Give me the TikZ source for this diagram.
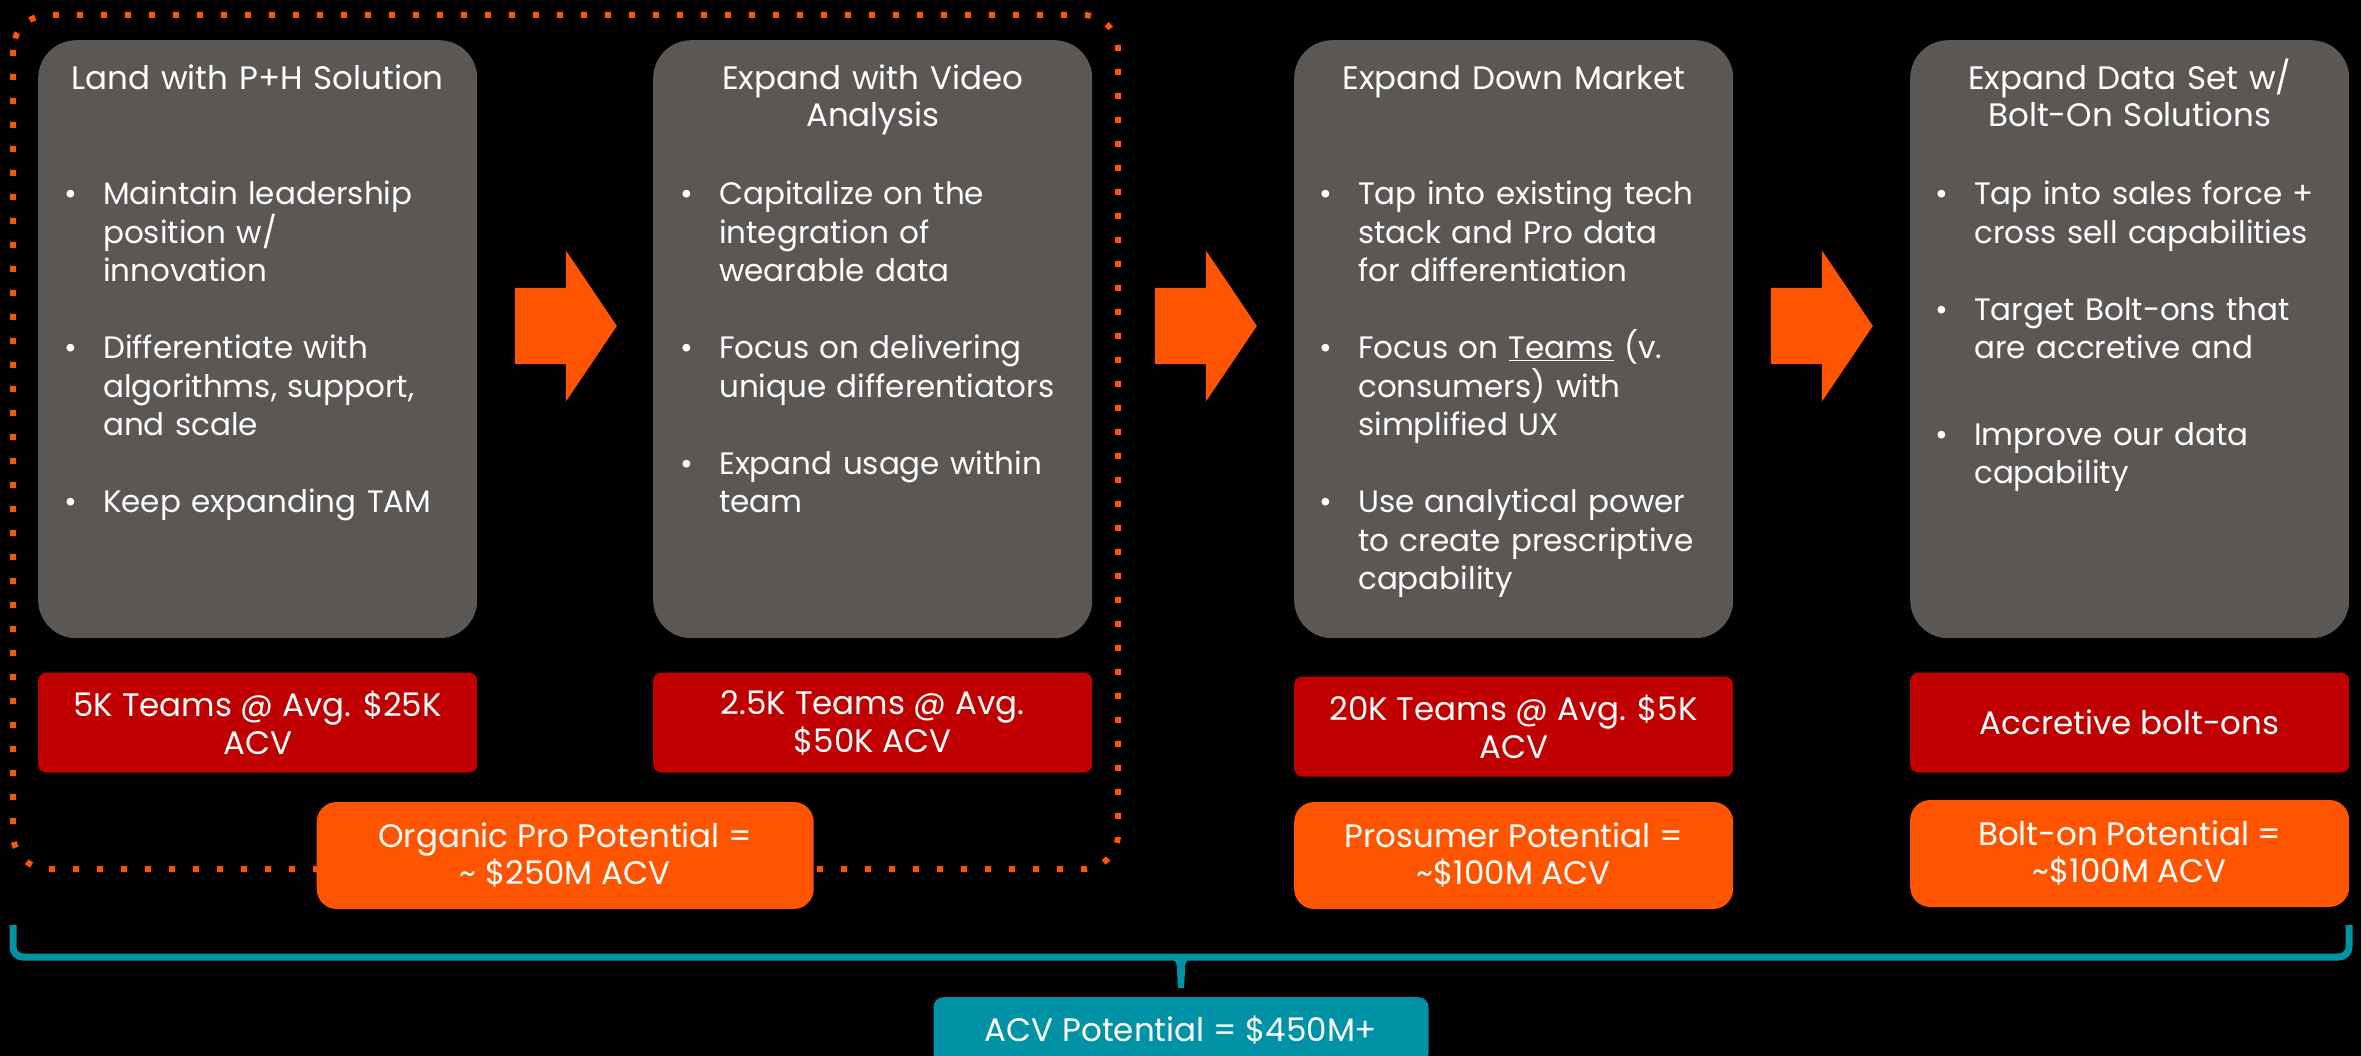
\documentclass[tikz,border=0pt]{standalone}
\usepackage{fontspec}
\setmainfont{Poppins}
\usetikzlibrary{shapes.arrows,calc}

\definecolor{panelgray}{RGB}{91,87,85}
\definecolor{acvred}{RGB}{192,0,0}
\definecolor{acvorange}{RGB}{255,85,0}
\definecolor{acvteal}{RGB}{0,146,166}

\newcommand{\bul}{\leavevmode\llap{\textbullet\hspace{26pt}}}

\begin{document}
\begin{tikzpicture}[x=1pt,y=-1pt]
	\tikzstyle{panel} = [fill=panelgray, rounded corners=38, minimum width=439, minimum height=598, inner sep=0, anchor=north west];
	\tikzstyle{title} = [text=white, text width=430, align=center, anchor=base, inner sep=0, font={\fontsize{32.5}{37}\selectfont}];
	\tikzstyle{bullets} = [text=white, text width=370, align=left, anchor=base west, inner sep=0, font={\fontsize{31}{38.5}\selectfont}];
	\tikzstyle{teams} = [fill=acvred, rounded corners=8, minimum width=439, minimum height=100, text=white, align=center, anchor=north, font={\fontsize{32.5}{38}\selectfont}];
	\tikzstyle{potential} = [fill=acvorange, rounded corners=20, minimum width=439, minimum height=107, text=white, align=center, anchor=north, font={\fontsize{32.5}{37}\selectfont}];
	\tikzstyle{total} = [fill=acvteal, rounded corners=10, minimum width=495, minimum height=66, text=white, anchor=north, font={\fontsize{32.5}{37}\selectfont}];
	\tikzstyle{blockarrow} = [single arrow, fill=acvorange, minimum height=102, inner xsep=0, inner ysep=38, single arrow head extend=37.5, single arrow tip angle=112];
	\tikzstyle{dotline} = [draw=acvorange, line width=6, dash pattern=on 6 off 18, rounded corners=35];
	\tikzstyle{bracket} = [draw=acvteal, line width=7, rounded corners=10];

	\useasboundingbox (0,0) rectangle (2361,1056);
	\fill[black] (0,0) rectangle (2361,1056);

	% dotted frame round the first two steps
	\draw[dotline] (13,15) rectangle (1118,869);

	% the four steps
	\foreach \px [count=\pi] in {38,653,1294,1910}
		\node[panel] (panel\pi) at (\px,40) {};

	\foreach \ax [count=\ai] in {553,1193,1809}
		\node[blockarrow] (arrow\ai) at (\ax,326) {};

	\node[title] (title1) at ($(panel1.north)+(0,50)$) {Land with P+H Solution};
	\node[title] (title2) at ($(panel2.north)+(0,50)$) {Expand with Video\\Analysis};
	\node[title] (title3) at ($(panel3.north)+(0,50)$) {Expand Down Market};
	\node[title] (title4) at ($(panel4.north)+(0,50)$) {Expand Data Set w/\\Bolt-On Solutions};

	\node[bullets] (list1) at ($(panel1.north west)+(65,165)$) {%
		\bul Maintain leadership\\position w/\\innovation\\[38.5pt]
		\bul Differentiate with\\algorithms, support,\\and scale\\[38.5pt]
		\bul Keep expanding TAM};
	\node[bullets] (list2) at ($(panel2.north west)+(66,165)$) {%
		\bul Capitalize on the\\integration of\\wearable data\\[38.5pt]
		\bul Focus on delivering\\unique differentiators\\[38.5pt]
		\bul Expand usage within\\team};
	\node[bullets] (list3) at ($(panel3.north west)+(64,165)$) {%
		\bul Tap into existing tech\\stack and Pro data\\for differentiation\\[38.5pt]
		\bul Focus on \underline{Teams} (v.\\consumers) with\\simplified UX\\[38.5pt]
		\bul Use analytical power\\to create prescriptive\\capability};
	\node[bullets] (list4) at ($(panel4.north west)+(64,165)$) {%
		\bul Tap into sales force +\\cross sell capabilities\\[38.5pt]
		\bul Target Bolt-ons that\\are accretive and\\[48pt]
		\bul Improve our data\\capability};

	% teams and potentials
	\node[teams] (teams1) at ($(panel1.south)+(0,34)$) {5K Teams @ Avg. \$25K\\ACV};
	\node[teams] (teams2) at ($(panel2.south)+(0,34)$) {2.5K Teams @ Avg.\\\$50K ACV};
	\node[teams] (teams3) at ($(panel3.south)+(0,38)$) {20K Teams @ Avg. \$5K\\ACV};
	\node[teams] (teams4) at ($(panel4.south)+(0,34)$) {Accretive bolt-ons};

	\node[potential, minimum width=497] (pot1) at ($(teams1.south)!0.5!(teams2.south)+(0,29)$) {Organic Pro Potential =\\\textasciitilde{} \$250M ACV};
	\node[potential] (pot3) at ($(teams3.south)+(0,25)$) {Prosumer Potential =\\\textasciitilde\$100M ACV};
	\node[potential] (pot4) at ($(teams4.south)+(0,27)$) {Bolt-on Potential =\\\textasciitilde\$100M ACV};

	% bracket and total
	\coordinate (bL) at (13,925);
	\coordinate (bR) at (2349,925);
	\coordinate (bM) at (1181,957);
	\draw[bracket] (bL) |- (bM) -| (bR);
	\fill[acvteal] ($(bM)+(-14,2)$) .. controls ($(bM)+(-4,2)$) and ($(bM)+(-4,6)$) .. ($(bM)+(-4,14)$) -- ($(bM)+(-3,31)$) -- ($(bM)+(3,31)$) -- ($(bM)+(4,14)$) .. controls ($(bM)+(4,6)$) and ($(bM)+(4,2)$) .. ($(bM)+(14,2)$) -- cycle;
	\node[total] (acv) at ($(bM)+(0,40)$) {ACV Potential = \$450M+};
\end{tikzpicture}
\end{document}
